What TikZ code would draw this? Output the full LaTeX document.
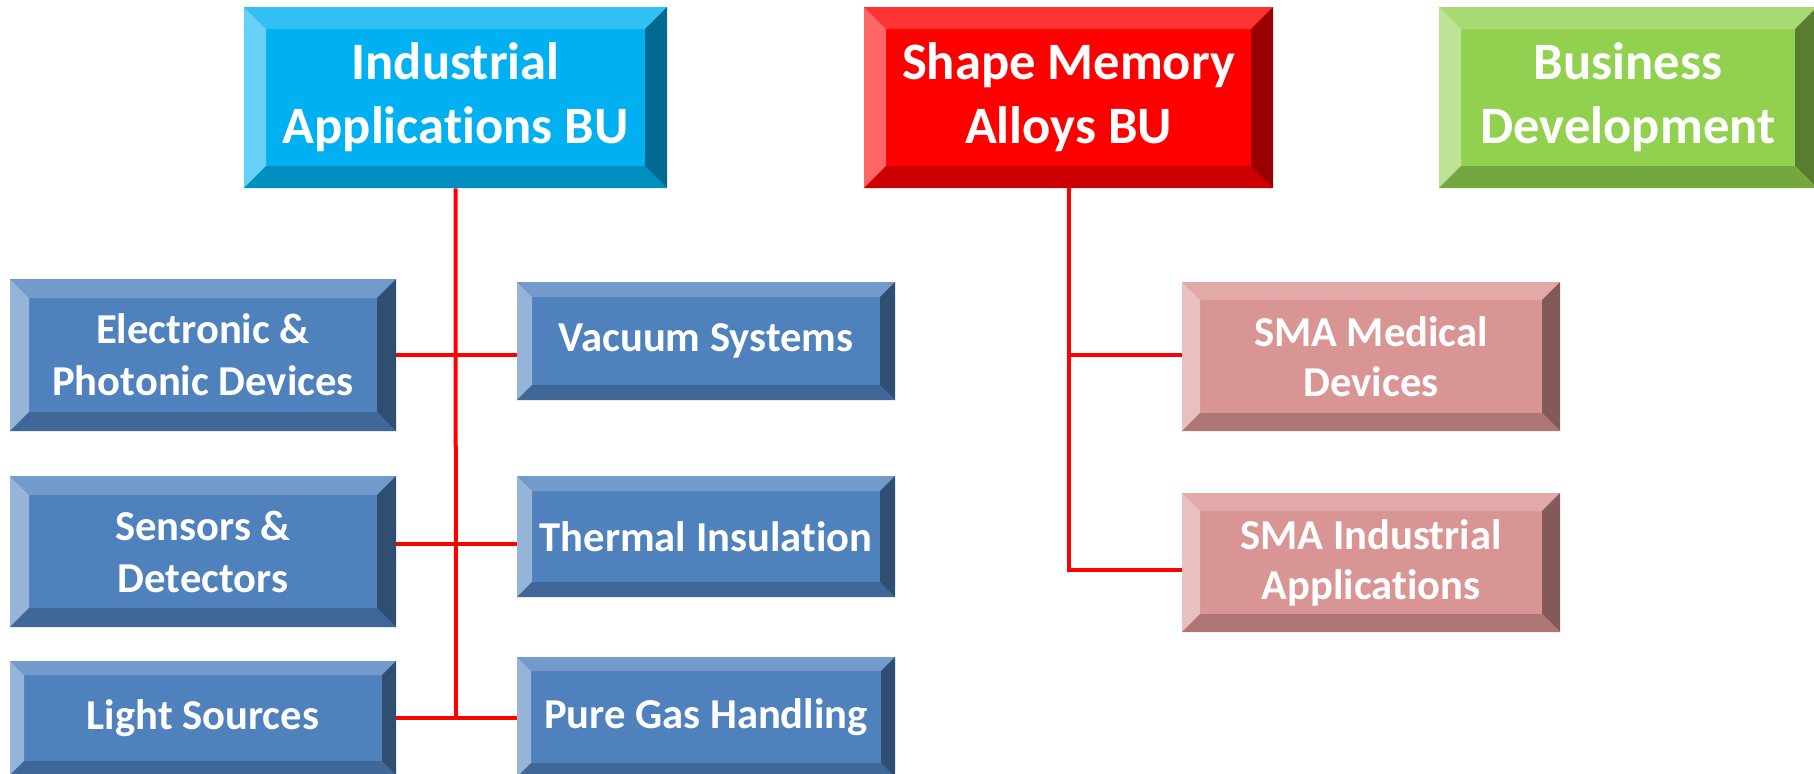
\documentclass[tikz,border=0pt]{standalone}
\usepackage{fontspec}
\setmainfont[Ligatures=CommonOff]{Carlito}
\usetikzlibrary{calc,positioning}
\definecolor{iacyan}{HTML}{00B0F0}
\definecolor{smared}{HTML}{FF0000}
\definecolor{bdgreen}{HTML}{92D050}
\definecolor{divblue}{HTML}{4F81BD}
\definecolor{smapink}{HTML}{D99594}

\begin{document}
\begin{tikzpicture}[x=0.5pt,y=-0.5pt,
bevelbox/.style n args={2}{rectangle,inner sep=0pt,fill=#1,text=white,align=center,
  path picture={
    \def\bw{#2}
    \fill[#1!80!white] (path picture bounding box.north west) -- (path picture bounding box.north east)
      -- ([shift={(-\bw,-\bw)}]path picture bounding box.north east)
      -- ([shift={(\bw,-\bw)}]path picture bounding box.north west) -- cycle;
    \fill[#1!60!white] (path picture bounding box.north west) -- ([shift={(\bw,-\bw)}]path picture bounding box.north west)
      -- ([shift={(\bw,\bw)}]path picture bounding box.south west)
      -- (path picture bounding box.south west) -- cycle;
    \fill[#1!60!black] (path picture bounding box.north east) -- (path picture bounding box.south east)
      -- ([shift={(-\bw,\bw)}]path picture bounding box.south east)
      -- ([shift={(-\bw,-\bw)}]path picture bounding box.north east) -- cycle;
    \fill[#1!80!black] (path picture bounding box.south west) -- (path picture bounding box.south east)
      -- ([shift={(-\bw,\bw)}]path picture bounding box.south east)
      -- ([shift={(\bw,\bw)}]path picture bounding box.south west) -- cycle;
  }},
bu/.style={bevelbox={#1}{11pt},minimum height=90.5pt,font=\fontsize{26.3}{32}\selectfont\bfseries},
div/.style={bevelbox={divblue}{#1},minimum width=193pt,font=\fontsize{21.3}{26}\selectfont\bfseries},
sma/.style={bevelbox={smapink}{9pt},minimum width=189pt,font=\fontsize{21.3}{25}\selectfont\bfseries},
link/.style={smared,line width=2pt}]
\useasboundingbox (0,0) rectangle (1814,773);

\node[bu=iacyan,minimum width=211.5pt] (indbu) at (455.5,97.5) {Industrial\\Applications BU};
\node[bu=smared,minimum width=204.5pt] (smabu) at (1068.5,97.5) {Shape Memory\\Alloys BU};
\node[bu=bdgreen,minimum width=189pt] (busdev) at (1628,97.5) {Business\\Development};

\node[div=9.5pt,minimum height=76pt] (elec) at (203,355) {Electronic \&\\Photonic Devices};
\node[div=9.5pt,minimum height=75.5pt] (sens) at (203,551.5) {Sensors \&\\Detectors};
\node[div=7pt,minimum height=57pt] (light) at (203,718) {Light Sources};
\node[div=7.5pt,minimum width=189pt,minimum height=59pt] (vac) at (706,341) {Vacuum Systems};
\node[div=7.5pt,minimum width=189pt,minimum height=60.5pt] (therm) at (706,536.5) {Thermal Insulation};
\node[div=7pt,minimum width=189pt,minimum height=60pt] (gas) at (706,717) {Pure Gas Handling};

\node[sma,minimum height=74.5pt] (smamed) at (1371,356.5) {SMA Medical\\Devices};
\node[sma,minimum height=69.5pt] (smaind) at (1371,562.5) {SMA Industrial\\Applications};

\coordinate (j1) at (456,355);
\coordinate (j2) at (456,544);
\coordinate (j3) at (456,718);
\coordinate (k1) at (1068.5,355);
\coordinate (k2) at (1068.5,570);

\draw[link] (indbu.south) -- (j3);
\draw[link] (elec.east |- j1) -- (vac.west |- j1);
\draw[link] (sens.east |- j2) -- (therm.west |- j2);
\draw[link] (light.east |- j3) -- (gas.west |- j3);
\draw[link] (smabu.south) -- (k2) -- (smaind.west |- k2);
\draw[link] (k1) -- (smamed.west |- k1);
\end{tikzpicture}
\end{document}
